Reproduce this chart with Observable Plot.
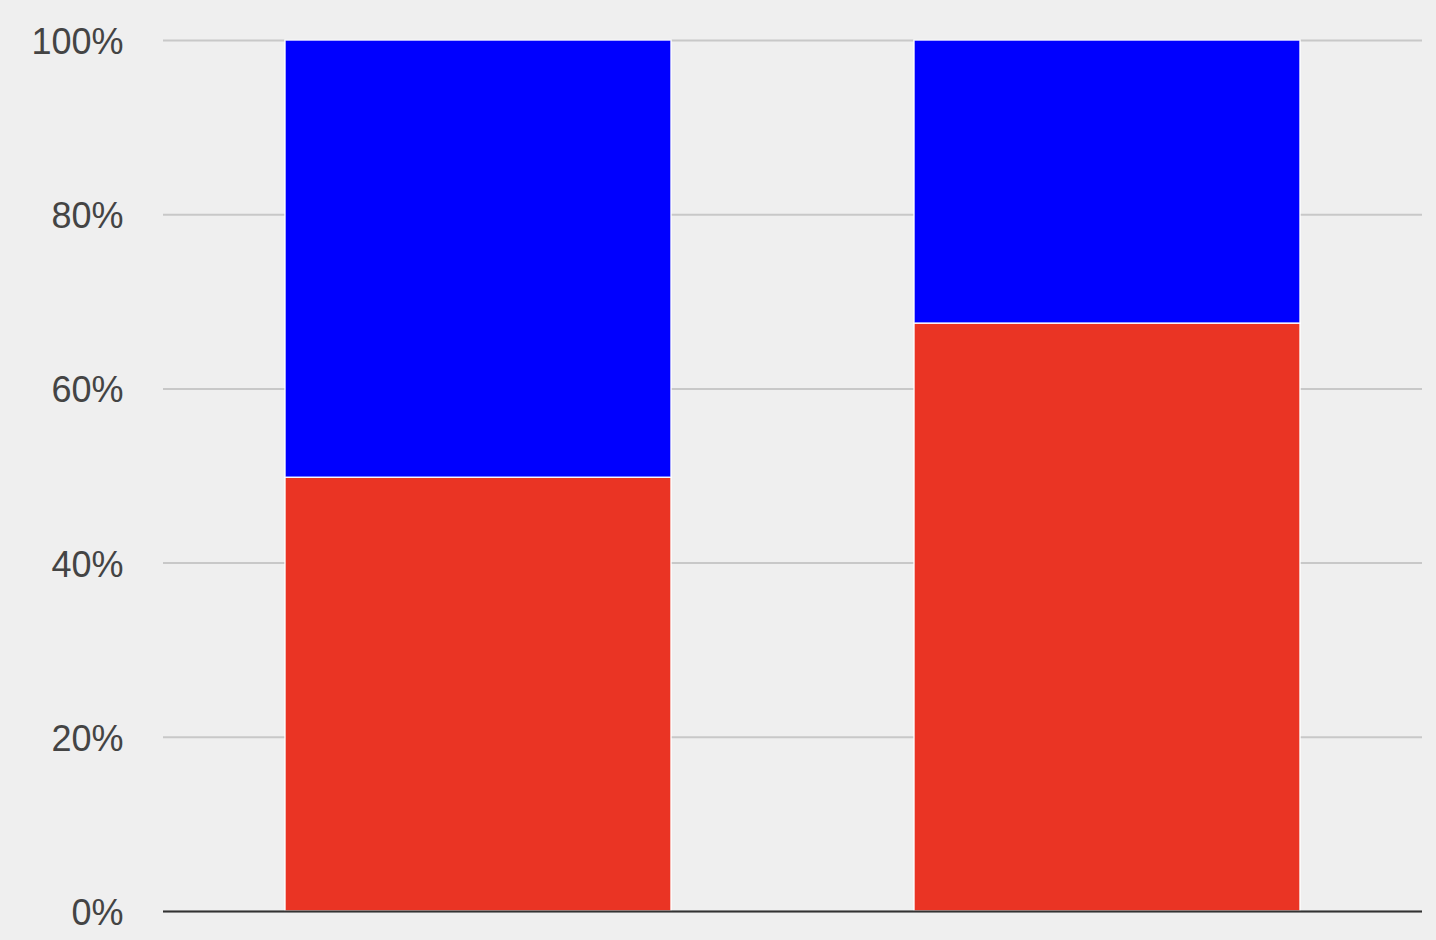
<!DOCTYPE html>
<html>
<head>
<meta charset="utf-8">
<script src="https://cdn.jsdelivr.net/npm/d3@7"></script>
<script src="https://cdn.jsdelivr.net/npm/@observablehq/plot@0.6"></script>
<style>
  html, body { margin: 0; padding: 0; background: #efefef; }
  #chart svg { display: block; }
</style>
</head>
<body>
<div id="chart"></div>
<script>
const categories = ["A", "B"];
const series = ["Series 1", "Series 2"];
const series1Values = [49.8, 67.5];
const series2Values = [50.2, 32.5];
const colors = ["#ea3424", "#0000ff"];
const yTicks = [0, 0.2, 0.4, 0.6, 0.8, 1.0];

const data = [];
categories.forEach((c, i) => {
  data.push({category: c, series: series[0], value: series1Values[i] / 100});
  data.push({category: c, series: series[1], value: series2Values[i] / 100});
});

const chart = Plot.plot({
  width: 1436,
  height: 940,
  marginLeft: 163,
  marginRight: 14,
  marginTop: 40,
  marginBottom: 29,
  style: {background: "#efefef", fontFamily: "'Liberation Sans', Arial, sans-serif", fontSize: "36px", color: "#444"},
  x: {domain: categories, paddingInner: 0.387, paddingOuter: 0.194, axis: null},
  y: {domain: [0, 1], ticks: yTicks, tickFormat: d3.format(".0%"), label: null},
  color: {domain: series, range: colors},
  marks: [
    Plot.gridY(yTicks, {stroke: "#c8c8c8", strokeOpacity: 1, strokeWidth: 2}),
    Plot.axisY(yTicks, {tickSize: 0, tickPadding: 40, dy: 2, tickFormat: d3.format(".0%"), fill: "#444", fontSize: 36, label: null}),
    Plot.barY(data, Plot.stackY({x: "category", y: "value", fill: "series", order: series, stroke: "#ffffff", strokeWidth: 1.5, strokeOpacity: 0.9})),
    Plot.ruleY([0], {stroke: "#333", strokeWidth: 2})
  ]
});
document.getElementById("chart").appendChild(chart);
</script>
</body>
</html>
